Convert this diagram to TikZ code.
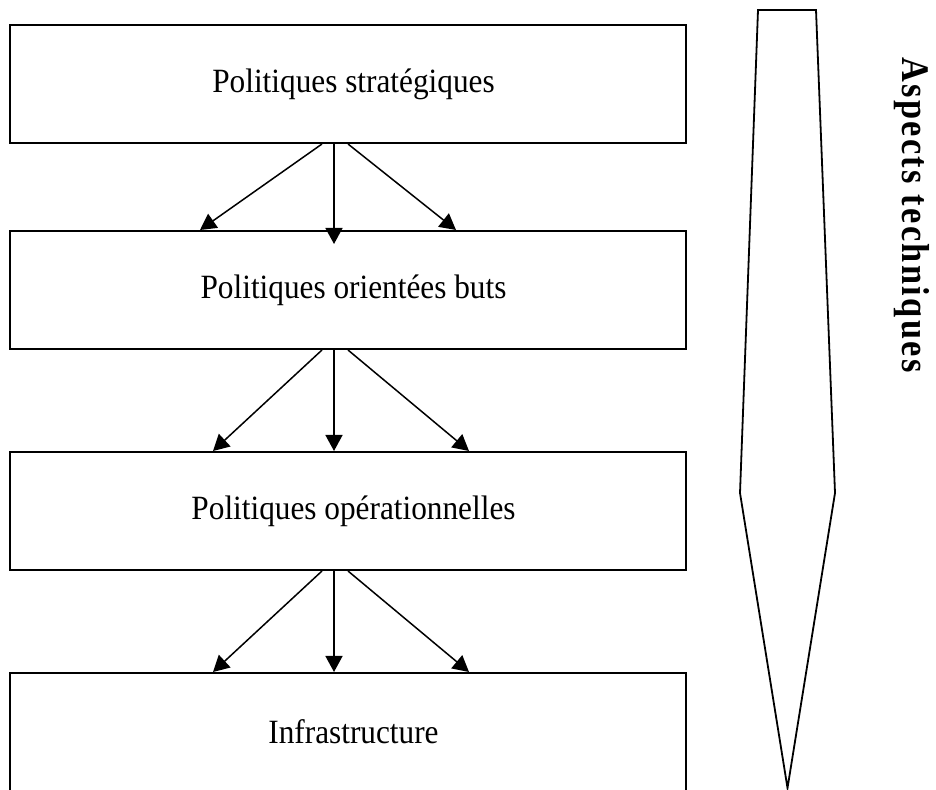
\documentclass[tikz,border=0pt]{standalone}
\usepackage{fontspec}
\setmainfont{Liberation Serif}
\newfontfamily\boxfont[FakeStretch=0.92]{Liberation Serif}
\newfontfamily\sidefont[FakeStretch=0.88,LetterSpace=6]{Liberation Serif}
\usetikzlibrary{arrows.meta,calc}

\tikzset{
  level/.style={draw, line width=2pt, minimum width=676pt, minimum height=118pt,
    inner sep=0pt, font=\boxfont\fontsize{34}{40}\selectfont,
    execute at begin node=\hspace*{11pt}},
  flow/.style={line width=1.5pt, -{Triangle[length=16pt,width=17pt]}},
  wedge/.style={draw, line width=1.8pt, line join=miter},
  sidelabel/.style={rotate=-90, inner sep=0pt, font=\sidefont\bfseries\fontsize{39}{45}\selectfont}
}

\begin{document}
\begin{tikzpicture}[x=1pt,y=1pt]
  \clip (0,0) rectangle (936,789);
  \useasboundingbox (0,0) rectangle (936,789);

  % policy levels
  \node[level] (b1) at (348,705) {Politiques stratégiques};
  \node[level] (b2) at (348,499) {Politiques orientées buts};
  \node[level] (b3) at (348,278) {Politiques opérationnelles};
  \node[level] (b4) at (348,57)  {Infrastructure};

  % fan-out between levels 1 and 2 (middle arrow overshoots the box edge)
  \draw[flow] ($(b1.south)+(-26,0)$) -- ($(b2.north)+(-148,0)$);
  \draw[flow] ($(b1.south)+(-14,0)$) -- ($(b2.north)+(-14,-14)$);
  \draw[flow] ($(b1.south)+(0,0)$)   -- ($(b2.north)+(108,0)$);

  % fan-out between levels 2 and 3
  \draw[flow] ($(b2.south)+(-26,0)$) -- ($(b3.north)+(-135,0)$);
  \draw[flow] ($(b2.south)+(-14,0)$) -- ($(b3.north)+(-14,0)$);
  \draw[flow] ($(b2.south)+(0,0)$)   -- ($(b3.north)+(121,0)$);

  % fan-out between levels 3 and 4
  \draw[flow] ($(b3.south)+(-26,0)$) -- ($(b4.north)+(-135,0)$);
  \draw[flow] ($(b3.south)+(-14,0)$) -- ($(b4.north)+(-14,0)$);
  \draw[flow] ($(b3.south)+(0,0)$)   -- ($(b4.north)+(121,0)$);

  % tapering pointer on the right
  \path[wedge] (758,779) -- (816,779) -- (835,296) -- (787.5,1) -- (740,296) -- cycle;

  \node[sidelabel] (tech) at (912,574) {Aspects techniques};
\end{tikzpicture}
\end{document}
